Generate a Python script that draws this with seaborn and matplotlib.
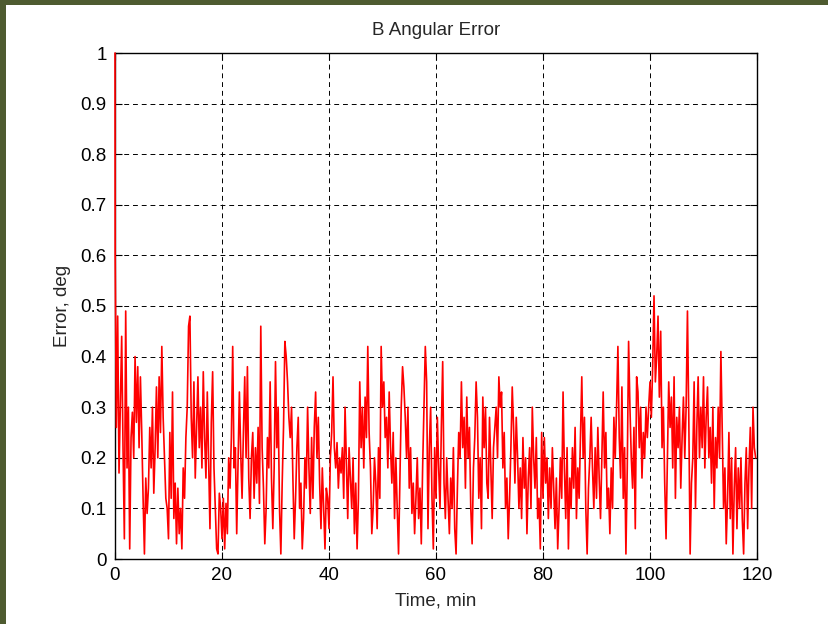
import numpy as np
import pandas as pd
import seaborn as sns
import matplotlib
matplotlib.use('Agg')
import matplotlib.pyplot as plt
from matplotlib.patches import Rectangle
from matplotlib.ticker import FuncFormatter

# start-up transient: first two samples
time_head = [0.0, 0.03]
err_head = [1.00, 0.60]

# B angular error, deg, then one value every 0.25 min (from 0.25), in 10 min blocks
err_000 = [0.26, 0.48, 0.17, 0.30, 0.44, 0.22, 0.04, 0.49,
           0.18, 0.30, 0.02, 0.24, 0.29, 0.20, 0.40, 0.27, 0.38, 0.22,
           0.36, 0.25, 0.12, 0.01, 0.16, 0.09, 0.14, 0.26, 0.18, 0.30,
           0.13, 0.22, 0.34, 0.20, 0.36, 0.25, 0.42, 0.28, 0.20, 0.12]
err_010 = [0.10, 0.04, 0.25, 0.12, 0.33, 0.08, 0.15, 0.03, 0.14, 0.05,
           0.10, 0.02, 0.18, 0.12, 0.24, 0.30, 0.46, 0.48, 0.28, 0.20,
           0.35, 0.16, 0.26, 0.36, 0.22, 0.30, 0.18, 0.37, 0.24, 0.16,
           0.33, 0.20, 0.06, 0.27, 0.37, 0.18, 0.10, 0.02, 0.01, 0.13]
err_020 = [0.10, 0.04, 0.12, 0.02, 0.11, 0.05, 0.20, 0.14, 0.24, 0.42,
           0.18, 0.22, 0.05, 0.19, 0.33, 0.21, 0.12, 0.25, 0.36, 0.20,
           0.38, 0.16, 0.08, 0.20, 0.25, 0.12, 0.22, 0.15, 0.26, 0.11,
           0.46, 0.22, 0.14, 0.03, 0.10, 0.24, 0.18, 0.35, 0.16, 0.06]
err_030 = [0.18, 0.39, 0.22, 0.30, 0.10, 0.01, 0.15, 0.26, 0.43, 0.40,
           0.35, 0.28, 0.24, 0.30, 0.16, 0.04, 0.12, 0.22, 0.28, 0.10,
           0.15, 0.02, 0.08, 0.20, 0.14, 0.30, 0.18, 0.09, 0.24, 0.12,
           0.26, 0.33, 0.20, 0.28, 0.15, 0.06, 0.18, 0.10, 0.02, 0.14]
err_040 = [0.12, 0.06, 0.20, 0.25, 0.36, 0.22, 0.18, 0.23, 0.14, 0.20,
           0.17, 0.22, 0.12, 0.30, 0.19, 0.08, 0.22, 0.16, 0.10, 0.20,
           0.05, 0.15, 0.02, 0.12, 0.35, 0.22, 0.30, 0.18, 0.32, 0.24,
           0.42, 0.25, 0.18, 0.05, 0.10, 0.20, 0.15, 0.06, 0.22, 0.12]
err_050 = [0.42, 0.30, 0.35, 0.24, 0.28, 0.18, 0.33, 0.22, 0.15, 0.25,
           0.08, 0.20, 0.10, 0.01, 0.15, 0.30, 0.38, 0.34, 0.28, 0.20,
           0.30, 0.14, 0.22, 0.09, 0.15, 0.05, 0.12, 0.20, 0.08, 0.14,
           0.03, 0.18, 0.30, 0.42, 0.35, 0.06, 0.22, 0.30, 0.12, 0.02]
err_060 = [0.22, 0.12, 0.28, 0.18, 0.10, 0.26, 0.39, 0.15, 0.08, 0.20,
           0.12, 0.05, 0.16, 0.10, 0.22, 0.06, 0.01, 0.14, 0.25, 0.20,
           0.35, 0.22, 0.28, 0.14, 0.32, 0.20, 0.26, 0.10, 0.03, 0.18,
           0.24, 0.35, 0.28, 0.12, 0.20, 0.06, 0.32, 0.22, 0.30, 0.15]
err_070 = [0.12, 0.28, 0.18, 0.08, 0.22, 0.26, 0.30, 0.20, 0.36, 0.30,
           0.33, 0.18, 0.25, 0.10, 0.16, 0.04, 0.12, 0.22, 0.34, 0.26,
           0.15, 0.28, 0.20, 0.10, 0.18, 0.08, 0.24, 0.14, 0.20, 0.05,
           0.16, 0.22, 0.10, 0.30, 0.20, 0.14, 0.24, 0.08, 0.12, 0.02]
err_080 = [0.25, 0.12, 0.24, 0.15, 0.20, 0.08, 0.18, 0.10, 0.22, 0.14,
           0.06, 0.16, 0.02, 0.10, 0.20, 0.12, 0.33, 0.18, 0.08, 0.22,
           0.02, 0.16, 0.10, 0.22, 0.14, 0.26, 0.08, 0.18, 0.12, 0.24,
           0.36, 0.20, 0.28, 0.10, 0.01, 0.14, 0.20, 0.28, 0.18, 0.10]
err_090 = [0.22, 0.12, 0.26, 0.16, 0.08, 0.20, 0.33, 0.18, 0.25, 0.10,
           0.14, 0.05, 0.18, 0.10, 0.28, 0.20, 0.30, 0.42, 0.24, 0.16,
           0.34, 0.12, 0.22, 0.01, 0.18, 0.43, 0.30, 0.20, 0.14, 0.26,
           0.06, 0.36, 0.33, 0.22, 0.30, 0.16, 0.25, 0.20, 0.30, 0.24]
err_100 = [0.30, 0.35, 0.28, 0.38, 0.52, 0.35, 0.40, 0.48, 0.32, 0.45,
           0.22, 0.30, 0.15, 0.04, 0.20, 0.35, 0.26, 0.32, 0.18, 0.36,
           0.12, 0.28, 0.22, 0.30, 0.14, 0.24, 0.32, 0.20, 0.30, 0.49,
           0.28, 0.01, 0.15, 0.20, 0.35, 0.10, 0.26, 0.36, 0.20, 0.30]
err_110 = [0.22, 0.36, 0.18, 0.28, 0.34, 0.20, 0.26, 0.15, 0.30, 0.10,
           0.24, 0.18, 0.30, 0.20, 0.41, 0.25, 0.10, 0.18, 0.03, 0.12,
           0.25, 0.08, 0.20, 0.01, 0.14, 0.22, 0.06, 0.18, 0.10, 0.20,
           0.08, 0.01, 0.15, 0.22, 0.06, 0.18, 0.26, 0.10, 0.30, 0.22,
           0.20]

step_min = 0.25
x_ticks = [0, 20, 40, 60, 80, 100, 120]
y_ticks = [0, 0.1, 0.2, 0.3, 0.4, 0.5, 0.6, 0.7, 0.8, 0.9, 1]

err_body = (err_000 + err_010 + err_020 + err_030 + err_040 + err_050 +
            err_060 + err_070 + err_080 + err_090 + err_100 + err_110)
time_body = list((np.arange(len(err_body)) + 1) * step_min)
df = pd.DataFrame({'time': time_head + time_body, 'error': err_head + err_body})

sns.set_style('ticks')
plt.rcParams['font.family'] = ['Liberation Sans', 'DejaVu Sans']

fig = plt.figure(figsize=(8.29, 6.24), dpi=100, facecolor='#4e5b30')
# white panel (olive frame shows on top and left)
fig.patches.append(Rectangle((6 / 829, 0), 1, 1 - 5 / 624, transform=fig.transFigure,
                             facecolor='white', edgecolor='none', zorder=-1))
ax = fig.add_axes([115 / 829, 1 - 559 / 624, 642 / 829, 506 / 624])
ax.set_facecolor('white')

sns.lineplot(data=df, x='time', y='error', color='red', linewidth=1.2,
             estimator=None, sort=False, ax=ax)
ax.lines[0].set_clip_on(False)

ax.set_xlim(0, 120)
ax.set_ylim(0, 1)
ax.set_xticks(x_ticks)
ax.set_yticks(y_ticks)
ax.yaxis.set_major_formatter(FuncFormatter(lambda v, p: f'{v:g}'))
ax.tick_params(direction='in', top=True, right=True, length=5, width=0.8,
               labelsize=13.5, colors='black', pad=6)
ax.grid(True, color='black', linestyle=(0, (5, 4)), linewidth=0.7)
for s in ax.spines.values():
    s.set_color('black')
    s.set_linewidth(1.0)
    s.set_zorder(1)

ax.set_title('B Angular Error', fontsize=13.5, pad=13)
ax.set_xlabel('Time, min', fontsize=13.5, labelpad=6)
ax.set_ylabel('Error, deg', fontsize=13.5, labelpad=7)

plt.savefig('out.png', dpi=100, facecolor=fig.get_facecolor())
